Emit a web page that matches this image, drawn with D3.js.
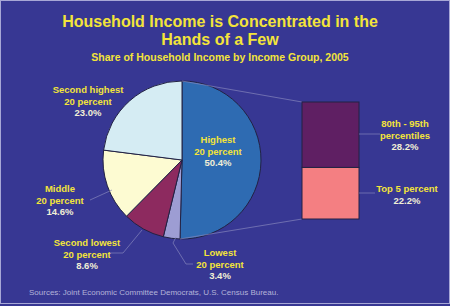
<!DOCTYPE html>
<html>
<head>
<meta charset="utf-8">
<script src="https://cdn.jsdelivr.net/npm/d3@7"></script>
<style>
  body { margin: 0; background: #373793; }
  svg { display: block; }
  text { font-family: "Liberation Sans", Arial, sans-serif; font-weight: bold; }
</style>
</head>
<body>
<svg id="chart"></svg>
<script>
// pie data, clockwise from 12 o'clock
var groups = ["Highest", "Lowest", "Second lowest", "Middle", "Second highest"];
var shares = [50.4, 3.4, 8.6, 14.6, 23.0];
var sliceColors = ["#2e6bb2", "#9d9dd3", "#8d2a5f", "#fdfbd2", "#d5ecf3"];

// breakdown of the highest fifth
var topGroups = ["80th - 95th percentiles", "Top 5 percent"];
var topShares = [28.2, 22.2];
var barColors = ["#5f1f63", "#f47f82"];

var width = 450, height = 306;
var cx = 182, cy = 160, radius = 79;
var yellow = "#f3e43a", pale = "#f1efd6", lineCol = "#8585bb";

var svg = d3.select("#chart")
    .attr("width", width)
    .attr("height", height);

svg.append("rect")
    .attr("x", 0.5).attr("y", 0.5)
    .attr("width", width - 1).attr("height", height - 3)
    .attr("fill", "#373793")
    .attr("stroke", "#a7a7d6");

// titles
svg.append("text").attr("x", 220).attr("y", 27)
    .attr("text-anchor", "middle").attr("fill", yellow).style("font-size", "16px")
    .text("Household Income is Concentrated in the");
svg.append("text").attr("x", 220).attr("y", 45)
    .attr("text-anchor", "middle").attr("fill", yellow).style("font-size", "16px")
    .text("Hands of a Few");
svg.append("text").attr("x", 220).attr("y", 61)
    .attr("text-anchor", "middle").attr("fill", yellow).style("font-size", "10.5px")
    .text("Share of Household Income by Income Group, 2005");

// pie
var pie = d3.pie().sort(null).value(d => d);
var arc = d3.arc().innerRadius(0).outerRadius(radius);
var arcs = pie(shares);

var g = svg.append("g").attr("transform", `translate(${cx},${cy})`);

// connector lines from highest slice to bar
var yBar = d3.scaleLinear()
    .domain([0, d3.sum(topShares)])
    .range([102, 219]);
var barX = 302, barW = 57;

svg.append("line")
    .attr("x1", cx).attr("y1", cy - radius)
    .attr("x2", barX).attr("y2", yBar(0))
    .attr("stroke", lineCol).attr("stroke-width", 0.7);
var endA = arcs[0].endAngle;
svg.append("line")
    .attr("x1", cx + radius * Math.sin(endA)).attr("y1", cy - radius * Math.cos(endA))
    .attr("x2", barX).attr("y2", yBar(d3.sum(topShares)))
    .attr("stroke", lineCol).attr("stroke-width", 0.7);

g.selectAll("path")
    .data(arcs)
    .enter()
    .append("path")
    .attr("d", arc)
    .attr("fill", (d, i) => sliceColors[i])
    .attr("stroke", "#222244")
    .attr("stroke-width", 1);

// bar
var stack = [];
var acc = 0;
topShares.forEach(function(v, i) {
    stack.push({ y0: acc, y1: acc + v, i: i });
    acc += v;
});

svg.selectAll("rect.seg")
    .data(stack)
    .enter()
    .append("rect")
    .attr("class", "seg")
    .attr("x", barX)
    .attr("y", d => yBar(d.y0))
    .attr("width", barW)
    .attr("height", d => yBar(d.y1) - yBar(d.y0))
    .attr("fill", d => barColors[d.i])
    .attr("stroke", "#222244")
    .attr("stroke-width", 1);

// labels
function label(x, y, lines, pct) {
    var t = svg.append("text")
        .attr("text-anchor", "middle")
        .style("font-size", "9.5px");
    lines.forEach(function(s, k) {
        t.append("tspan").attr("x", x).attr("y", y + k * 11.5)
            .attr("fill", yellow).text(s);
    });
    t.append("tspan").attr("x", x).attr("y", y + lines.length * 11.5)
        .attr("fill", pale).text(pct.toFixed(1) + "%");
}

function leader(pts) {
    svg.append("path")
        .attr("d", d3.line()(pts))
        .attr("fill", "none")
        .attr("stroke", lineCol)
        .attr("stroke-width", 0.7);
}

label(218, 143, ["Highest", "20 percent"], shares[0]);
label(220, 256, ["Lowest", "20 percent"], shares[1]);
label(87, 246, ["Second lowest", "20 percent"], shares[2]);
label(60, 192, ["Middle", "20 percent"], shares[3]);
label(88, 93, ["Second highest", "20 percent"], shares[4]);

label(405, 127, ["80th - 95th", "percentiles"], topShares[0]);
label(407, 192, ["Top 5 percent"], topShares[1]);

leader([[193, 264], [186, 264], [173, 243], [176, 237]]);
leader([[110, 253], [123, 253], [142, 230]]);
leader([[90, 200], [112, 190]]);
leader([[359, 134], [380, 134]]);
leader([[359, 193], [375, 193]]);

svg.append("text")
    .attr("x", 29).attr("y", 295)
    .attr("fill", "#b3b3d9")
    .style("font-weight", "normal")
    .style("font-size", "8px")
    .text("Sources: Joint Economic Committee Democrats, U.S. Census Bureau.");
</script>
</body>
</html>
